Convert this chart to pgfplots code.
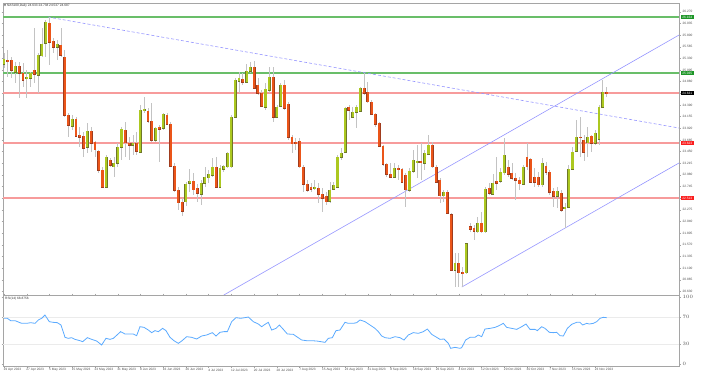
\documentclass[border=0pt]{standalone}
\usepackage{pgfplots}
\usepackage{pgfplotstable}
\pgfplotsset{compat=1.18}
\usepackage{fontspec}
\setmainfont{Liberation Sans}
\newfontfamily\dejavu{DejaVu Sans}
\newcommand\tf{\fontsize{3.2}{3.8}\selectfont}
\definecolor{upcol}{RGB}{172,200,32}
\definecolor{upedge}{RGB}{110,120,40}
\definecolor{dncol}{RGB}{235,85,25}
\definecolor{dnedge}{RGB}{160,60,30}
\definecolor{wick}{RGB}{195,195,195}
\definecolor{trend}{RGB}{150,150,255}
\definecolor{hgreen}{RGB}{105,190,105}
\definecolor{hred}{RGB}{247,155,155}
\definecolor{rsiblue}{RGB}{90,170,255}
\definecolor{frame}{RGB}{165,165,165}
\definecolor{boxgreen}{RGB}{30,150,40}
\definecolor{boxred}{RGB}{250,30,30}

\pgfplotstableread{
i o h l c
0 25.216 25.438 25.135 25.317
1 25.297 25.499 24.954 25.277
2 25.297 25.357 24.934 25.095
3 25.055 25.256 24.833 25.176
4 25.176 25.256 24.530 25.035
5 25.035 25.236 24.752 24.893
6 24.934 25.095 24.530 24.954
7 24.934 25.055 24.752 25.035
8 25.095 25.942 24.833 25.014
9 24.994 25.438 24.631 25.398
10 25.378 25.942 25.357 25.620
11 25.640 26.104 25.357 26.063
12 26.043 26.164 25.196 25.660
13 25.680 25.741 25.438 25.559
14 25.559 25.700 25.297 25.620
15 25.599 25.942 25.357 25.398
16 25.357 25.499 24.147 24.187
17 24.187 24.228 23.744 23.986
18 23.965 24.187 23.885 24.107
19 24.107 24.147 23.744 23.764
20 23.784 23.945 23.542 23.744
21 23.764 23.844 23.340 23.522
22 23.542 24.026 23.421 23.865
23 23.865 23.945 23.441 23.623
24 23.643 23.663 23.340 23.482
25 23.461 23.482 23.018 23.078
26 23.078 23.139 22.715 22.735
27 22.735 23.381 22.715 23.340
28 23.280 23.320 23.139 23.179
29 23.139 23.340 22.937 23.219
30 23.219 23.623 23.139 23.542
31 23.542 23.945 23.280 23.905
32 23.885 24.046 23.340 23.623
33 23.623 23.744 23.280 23.582
34 23.582 23.784 23.381 23.623
35 23.623 23.844 23.381 23.461
36 23.441 24.389 23.421 24.288
37 24.288 24.551 24.228 24.308
38 24.268 24.329 24.026 24.066
39 24.066 24.430 23.643 23.683
40 23.683 23.945 23.643 23.925
41 23.945 23.986 23.239 23.905
42 23.925 24.228 23.885 24.208
43 24.187 24.228 23.986 24.006
44 24.006 24.046 23.139 23.159
45 23.159 23.219 22.634 22.675
46 22.675 22.735 22.271 22.413
47 22.433 22.513 22.150 22.251
48 22.433 22.836 22.352 22.796
49 22.816 23.098 22.634 22.856
50 22.856 23.018 22.574 22.675
51 22.715 22.796 22.433 22.614
52 22.594 22.876 22.372 22.816
53 22.816 23.139 22.735 22.937
54 22.917 23.078 22.816 22.997
55 22.977 23.320 22.937 23.139
56 23.139 23.340 22.715 22.735
57 22.735 23.179 22.715 23.118
58 23.098 23.179 23.038 23.159
59 23.139 23.441 23.118 23.421
60 23.139 24.187 23.118 24.147
61 24.147 24.934 24.127 24.893
62 24.873 25.055 24.631 24.934
63 24.914 25.035 24.793 24.853
64 24.853 25.216 24.833 25.075
65 25.075 25.256 25.035 25.156
66 25.156 25.277 24.712 24.732
67 24.793 24.934 24.591 24.631
68 24.631 24.692 24.349 24.369
69 24.349 24.833 24.288 24.712
70 24.692 25.156 24.631 24.954
71 24.954 25.156 24.046 24.147
72 24.147 24.389 24.127 24.349
73 24.369 24.833 24.349 24.793
74 24.793 24.893 24.288 24.329
75 24.409 24.450 23.683 23.744
76 23.744 23.784 23.421 23.603
77 23.643 23.724 23.482 23.613
78 23.663 23.724 23.118 23.139
79 23.139 23.179 22.634 22.796
80 22.796 22.876 22.634 22.675
81 22.735 22.816 22.634 22.695
82 22.715 22.876 22.675 22.735
83 22.715 22.816 22.413 22.594
84 22.594 22.715 22.231 22.513
85 22.554 22.634 22.372 22.433
86 22.453 22.836 22.413 22.675
87 22.695 22.836 22.675 22.776
88 22.735 23.381 22.715 23.340
89 23.340 23.522 23.280 23.421
90 23.441 24.349 23.421 24.329
91 24.349 24.389 24.087 24.288
92 24.147 24.349 24.127 24.248
93 24.248 24.389 23.925 24.349
94 24.268 24.752 24.248 24.732
95 24.732 25.035 24.591 24.631
96 24.651 24.853 24.430 24.450
97 24.450 24.490 24.187 24.208
98 24.208 24.228 23.945 24.006
99 24.026 24.046 23.542 23.562
100 23.562 23.582 23.159 23.199
101 23.199 23.219 22.937 22.997
102 22.997 23.219 22.917 22.937
103 22.937 23.219 22.917 23.118
104 23.118 23.179 22.876 23.098
105 23.098 23.118 22.816 22.836
106 22.977 23.018 22.332 22.675
107 22.675 23.118 22.634 23.058
108 23.058 23.482 23.018 23.280
109 23.239 23.582 22.917 23.260
110 23.260 23.623 22.876 23.239
111 23.219 23.482 23.078 23.421
112 23.401 23.784 23.381 23.582
113 23.582 23.643 23.118 23.139
114 23.139 23.179 22.816 22.836
115 22.876 22.917 22.413 22.554
116 22.554 22.675 22.433 22.634
117 22.634 22.675 22.191 22.211
118 22.171 22.211 21.041 21.061
119 21.061 21.404 20.718 21.202
120 21.202 21.404 20.718 21.001
121 21.021 21.122 20.718 20.991
122 21.001 21.606 20.980 21.586
123 21.929 22.009 21.828 21.888
124 21.908 21.969 21.666 21.848
125 21.828 22.130 21.807 22.009
126 22.009 22.231 21.807 21.828
127 21.828 22.735 21.807 22.695
128 22.715 22.816 22.574 22.614
129 22.594 22.997 22.574 22.816
130 22.856 23.340 22.675 22.816
131 22.856 23.118 22.816 23.038
132 23.018 23.724 22.977 23.381
133 23.139 23.280 22.937 22.997
134 23.018 23.219 22.876 22.917
135 22.917 23.018 22.473 22.876
136 22.876 22.937 22.675 22.796
137 22.796 23.179 22.776 23.139
138 23.340 23.623 23.078 23.139
139 23.300 23.320 22.816 22.836
140 22.937 23.118 22.735 22.836
141 22.937 23.038 22.735 22.776
142 22.776 23.320 22.735 23.219
143 23.159 23.239 22.977 23.038
144 23.038 23.078 22.574 22.634
145 22.654 22.715 22.332 22.554
146 22.554 22.735 22.312 22.654
147 22.614 22.675 22.231 22.271
148 22.312 22.413 21.908 22.332
149 22.332 23.179 22.312 23.098
150 23.098 23.542 23.078 23.441
151 23.461 24.087 23.441 23.744
152 23.744 24.147 23.340 23.724
153 23.683 23.784 23.260 23.441
154 23.623 23.945 23.340 23.744
155 23.764 23.784 23.441 23.623
156 23.623 23.885 23.582 23.824
157 23.703 24.389 23.582 24.349
158 24.349 24.893 24.329 24.651
159 24.651 24.752 24.551 24.631
}\candles

\begin{document}
\begin{tikzpicture}[font=\tf]
\useasboundingbox (0,0) rectangle (708pt,376pt);

\begin{axis}[
  at={(3pt,81pt)}, anchor=south west, scale only axis,
  width=676pt, height=292pt,
  xmin=-0.264, xmax=178.1, ymin=20.557, ymax=26.447,
  clip mode=individual,
  axis line style={frame, line width=0.6pt},
  xtick=\empty,
  ytick={20.630,20.865,21.100,21.335,21.570,21.805,22.040,22.275,22.510,22.745,22.980,23.215,23.450,23.685,23.920,24.155,24.390,24.625,24.860,25.095,25.330,25.565,25.800,26.035,26.270},
  yticklabels={20.630,20.865,21.100,21.335,21.570,21.805,22.040,22.275,22.510,22.745,22.980,23.215,23.450,23.685,23.920,24.155,24.390,24.625,24.860,25.095,25.330,25.565,25.800,26.035,26.270},
  yticklabel pos=right,
  yticklabel style={font=\tf, text=black!70, inner sep=1pt, xshift=1pt},
  major tick length=1.5pt, tick align=outside, tick style={frame, line width=0.4pt},
]
% horizontal levels
\addplot[draw=hgreen, line width=1.1pt, mark=none] coordinates {(-0.264,26.164) (178.1,26.164)};
\addplot[draw=hgreen, line width=1.1pt, mark=none] coordinates {(-0.264,25.035) (178.1,25.035)};
\addplot[draw=hred, line width=1.1pt, mark=none] coordinates {(-0.264,24.631) (178.1,24.631)};
\addplot[draw=hred, line width=1.1pt, mark=none] coordinates {(-0.264,23.623) (178.1,23.623)};
\addplot[draw=hred, line width=1.1pt, mark=none] coordinates {(-0.264,22.513) (178.1,22.513)};
% trend lines
\addplot[draw=trend, line width=0.6pt, mark=none, dash pattern=on 3pt off 2pt] coordinates {(11.6,26.164) (178.1,23.925)};
\addplot[draw=trend, line width=0.6pt, mark=none] coordinates {(58.0,20.557) (178.1,25.801)};
\addplot[draw=trend, line width=0.6pt, mark=none] coordinates {(120.8,20.718) (178.1,23.220)};
% wicks
\addplot[draw=none, mark=none, forget plot,
  error bars/.cd, y dir=both, y explicit, error mark=none,
  error bar style={draw=wick, solid, line width=0.7pt}]
  table[x=i, y expr={(\thisrow{h}+\thisrow{l})/2}, y error expr={(\thisrow{h}-\thisrow{l})/2}] {\candles};
% up bodies
\addplot[draw=none, mark=none, forget plot,
  restrict expr to domain={\thisrow{c}-\thisrow{o}}{0:10},
  error bars/.cd, y dir=both, y explicit, error mark=none,
  error bar style={draw=upedge, solid, line width=2.9pt}]
  table[x=i, y expr={(\thisrow{o}+\thisrow{c})/2}, y error expr={abs(\thisrow{c}-\thisrow{o})/2+0.01}] {\candles};
\addplot[draw=none, mark=none, forget plot,
  restrict expr to domain={\thisrow{c}-\thisrow{o}}{0:10},
  error bars/.cd, y dir=both, y explicit, error mark=none,
  error bar style={draw=upcol, solid, line width=2.1pt}]
  table[x=i, y expr={(\thisrow{o}+\thisrow{c})/2}, y error expr={max(abs(\thisrow{c}-\thisrow{o})/2,0.004)}] {\candles};
% down bodies
\addplot[draw=none, mark=none, forget plot,
  restrict expr to domain={\thisrow{o}-\thisrow{c}}{0.0001:10},
  error bars/.cd, y dir=both, y explicit, error mark=none,
  error bar style={draw=dnedge, solid, line width=2.9pt}]
  table[x=i, y expr={(\thisrow{o}+\thisrow{c})/2}, y error expr={abs(\thisrow{c}-\thisrow{o})/2+0.01}] {\candles};
\addplot[draw=none, mark=none, forget plot,
  restrict expr to domain={\thisrow{o}-\thisrow{c}}{0.0001:10},
  error bars/.cd, y dir=both, y explicit, error mark=none,
  error bar style={draw=dncol, solid, line width=2.1pt}]
  table[x=i, y expr={(\thisrow{o}+\thisrow{c})/2}, y error expr={max(abs(\thisrow{c}-\thisrow{o})/2,0.004)}] {\candles};
% price boxes
\node[fill=boxgreen, text=white, anchor=west, inner sep=0.6pt, minimum width=13pt, xshift=1.5pt] at (axis cs:178.1,26.164) {26.164};
\node[fill=boxgreen, text=white, anchor=west, inner sep=0.6pt, minimum width=13pt, xshift=1.5pt] at (axis cs:178.1,25.035) {25.035};
\node[fill=black, text=white, anchor=west, inner sep=0.6pt, minimum width=13pt, xshift=1.5pt] at (axis cs:178.1,24.631) {24.631};
\node[fill=boxred, text=white, anchor=west, inner sep=0.6pt, minimum width=13pt, xshift=1.5pt] at (axis cs:178.1,23.623) {23.623};
\node[fill=boxred, text=white, anchor=west, inner sep=0.6pt, minimum width=13pt, xshift=1.5pt] at (axis cs:178.1,22.513) {22.513};
\end{axis}

\begin{axis}[
  at={(3pt,10pt)}, anchor=south west, scale only axis,
  width=676pt, height=71pt,
  xmin=-0.264, xmax=178.1, ymin=-3, ymax=103,
  clip mode=individual,
  axis line style={frame, line width=0.6pt},
  ytick={0,30,70,100}, yticklabel pos=right,
  yticklabel style={font=\tf, text=black!70, inner sep=1pt, xshift=1pt},
  xtick={0,6,...,156},
  xticklabels={19 Apr 2023,27 Apr 2023,5 May 2023,15 May 2023,23 May 2023,31 May 2023,8 Jun 2023,16 Jun 2023,26 Jun 2023,4 Jul 2023,12 Jul 2023,20 Jul 2023,28 Jul 2023,7 Aug 2023,15 Aug 2023,23 Aug 2023,31 Aug 2023,8 Sep 2023,18 Sep 2023,26 Sep 2023,4 Oct 2023,12 Oct 2023,20 Oct 2023,30 Oct 2023,7 Nov 2023,15 Nov 2023,23 Nov 2023},
  xticklabel style={font=\tf, text=black!70, anchor=north west, inner sep=0pt, yshift=-1pt, xshift=-0.5pt},
  major tick length=1.5pt, tick align=outside, tick style={frame, line width=0.4pt},
]
\addplot[draw=black!8, line width=0.5pt, mark=none] coordinates {(-0.264,70) (178.1,70)};
\addplot[draw=black!8, line width=0.5pt, mark=none] coordinates {(-0.264,30) (178.1,30)};
\addplot[draw=rsiblue, line width=0.8pt, mark=none] coordinates {
(0,68.2) (0.88,68.2) (1.76,64.7) (2.9,64.7) (4.66,60.7) (5.98,60.7) (7.04,61.7) (8.18,60.7) (9.06,65.7) (9.94,68.2) (10.8,73.1) (11.96,63.2) (13.0,62.2) (14.07,61.7) (15.04,58.2) (16.1,39.8) (16.97,38.3) (17.85,39.3) (18.73,36.8) (20.05,34.8) (20.76,33.3) (21.99,39.3) (23.13,36.8) (24.45,34.3) (25.77,28.4) (26.91,38.3) (27.97,36.8) (28.85,38.3) (30.78,48.3) (31.93,44.8) (33.25,44.8) (34.12,44.8) (35.0,42.3) (35.88,55.7) (36.94,54.7) (38.08,50.7) (38.96,46.8) (39.84,49.8) (40.72,48.3) (41.86,53.2) (42.74,49.8) (43.8,39.8) (44.85,34.8) (45.99,30.8) (46.88,34.3) (48.2,40.8) (49.52,39.8) (50.83,37.3) (52.15,41.8) (53.47,43.3) (54.97,46.8) (55.94,41.8) (56.99,47.3) (58.05,48.3) (58.93,48.3) (60.07,63.2) (61.21,69.2) (62.44,68.2) (63.59,69.2) (64.47,70.1) (65.79,63.2) (67.1,59.7) (67.98,55.7) (68.86,59.2) (69.74,62.2) (70.62,50.7) (71.77,53.2) (72.65,58.2) (73.7,51.7) (74.76,44.8) (76.34,44.3) (77.22,40.8) (78.54,35.8) (79.86,34.8) (81.18,34.8) (82.5,34.3) (83.64,33.3) (84.7,32.3) (85.58,38.3) (86.63,39.3) (87.6,49.8) (88.65,50.7) (89.97,62.2) (90.85,60.7) (92.17,60.7) (93.05,61.7) (93.93,65.7) (95.25,63.2) (96.57,58.2) (97.89,53.2) (98.77,48.3) (99.65,41.8) (100.53,39.3) (101.85,38.3) (103.17,40.8) (104.49,39.3) (105.54,35.8) (106.68,43.3) (108.0,46.8) (109.32,45.8) (110.64,48.3) (111.7,52.2) (112.84,44.3) (114.16,39.8) (115.04,36.8) (116.1,37.3) (117.24,30.8) (117.85,23.4) (119.0,24.9) (120.3,23.4) (120.76,24.4) (121.81,35.8) (122.96,39.8) (124.27,39.8) (125.15,43.3) (126.03,40.8) (126.91,52.2) (128.23,53.2) (129.55,54.7) (130.43,56.7) (131.75,60.7) (132.63,54.7) (133.95,53.2) (135.27,51.7) (136.59,55.7) (137.73,59.7) (138.79,51.7) (140.11,51.7) (140.72,49.8) (141.86,55.7) (142.74,53.2) (143.89,47.3) (144.94,46.8) (145.82,47.3) (146.7,42.3) (147.58,41.8) (148.64,53.2) (149.78,59.2) (151.1,62.2) (151.98,62.2) (152.68,58.2) (153.74,60.7) (154.44,59.7) (155.5,60.7) (156.38,63.2) (157.26,68.2) (158.14,69.7) (159.0,69.2)};
\end{axis}

\node[anchor=north west, inner sep=0pt, text=black!80] at (5pt,79pt) {RSI(14) 68.8756};
\node[anchor=north west, inner sep=0pt, text=black!80] at (4pt,372pt) {{\dejavu\fontsize{2.6}{3}\selectfont ▼} NAS100,Daily 24.633 24.738 24.537 24.687};
\end{tikzpicture}
\end{document}
